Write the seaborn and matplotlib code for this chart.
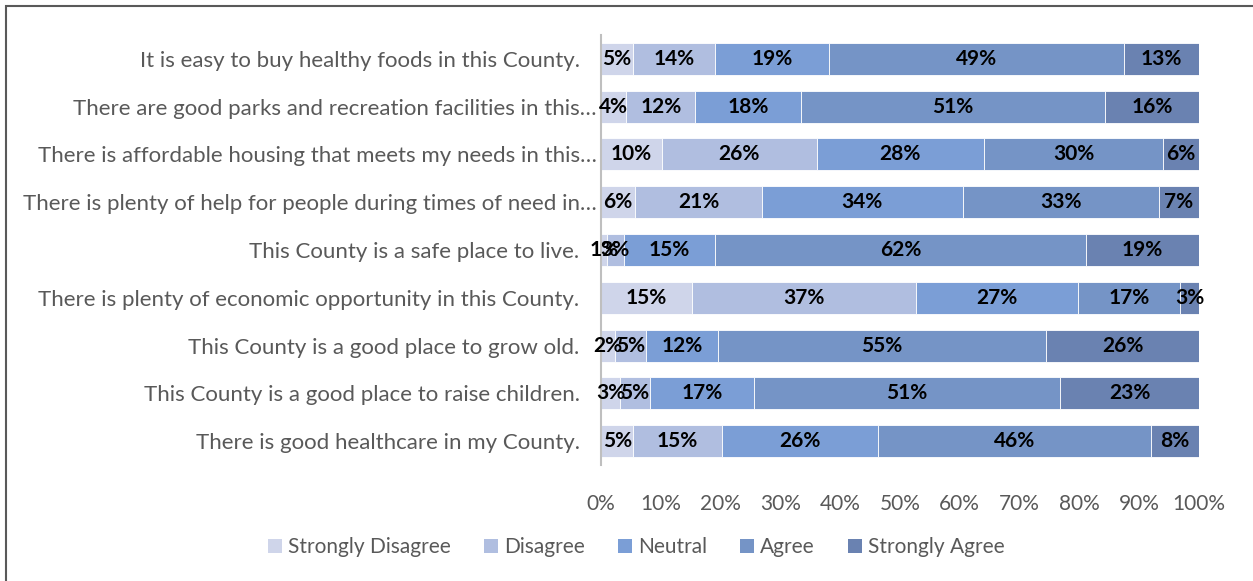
import matplotlib
matplotlib.use("Agg")
import pandas as pd
import seaborn as sns
from matplotlib import pyplot as plt
from matplotlib.patches import Rectangle, Patch


# Survey statements (top to bottom) and response shares in percent
statements = [
    "It is easy to buy healthy foods in this County.",
    "There are good parks and recreation facilities in this\u2026",
    "There is affordable housing that meets my needs in this\u2026",
    "There is plenty of help for people during times of need in\u2026",
    "This County is a safe place to live.",
    "There is plenty of economic opportunity in this County.",
    "This County is a good place to grow old.",
    "This County is a good place to raise children.",
    "There is good healthcare in my County.",
]
responses = ["Strongly Disagree", "Disagree", "Neutral", "Agree", "Strongly Agree"]

strongly_disagree = [5.3, 4.2, 10.2, 5.7, 1.0, 15.2, 2.4, 3.2, 5.4]
disagree = [13.8, 11.6, 25.9, 21.2, 2.8, 37.4, 5.2, 5.0, 14.8]
neutral = [19.0, 17.6, 27.9, 33.6, 15.3, 27.2, 12.0, 17.4, 26.1]
agree = [49.3, 50.9, 30.0, 32.8, 62.0, 17.0, 54.8, 51.2, 45.7]
strongly_agree = [12.6, 15.7, 6.0, 6.7, 18.9, 3.2, 25.6, 23.2, 8.0]

colors = ["#CFD5EA", "#B0BEE0", "#7B9ED6", "#7594C6", "#6A82B1"]
x_ticks = list(range(0, 101, 10))

data = pd.DataFrame(
    {"Statement": statements,
     "Strongly Disagree": strongly_disagree,
     "Disagree": disagree,
     "Neutral": neutral,
     "Agree": agree,
     "Strongly Agree": strongly_agree}
)

sns.set_theme(style="white")
plt.rcParams["font.family"] = ["Lato", "DejaVu Sans"]

fig = plt.figure(figsize=(12.53, 5.81), dpi=100)
ax = fig.add_axes([601 / 1253, 1 - 465 / 581, 598 / 1253, 430 / 581])

# Stacked horizontal bars, one response level at a time
left = [0.0] * len(statements)
for resp, col in zip(responses, colors):
    sns.barplot(data=data, x=resp, y="Statement", left=left, color=col,
                width=0.67, orient="h", edgecolor="white", linewidth=0.6,
                saturation=1, ax=ax)
    for i, v in enumerate(data[resp]):
        ax.text(left[i] + v / 2, i, f"{v:.0f}%", ha="center", va="center",
                fontsize=15, fontweight="bold", color="black")
    left = [a + b for a, b in zip(left, data[resp])]

ax.set_xlim(0, 100)
ax.set_xticks(x_ticks)
ax.set_xticklabels([f"{t}%" for t in x_ticks])
ax.set_xlabel("")
ax.set_ylabel("")
ax.set_yticks(range(len(statements)))
ax.set_yticklabels([s if s.endswith("\u2026") else s + "   " for s in statements])
ax.tick_params(axis="x", length=0, pad=21, labelsize=15, labelcolor="#595959")
ax.tick_params(axis="y", length=0, pad=3, labelsize=16, labelcolor="#595959")
for side in ["top", "right", "bottom"]:
    ax.spines[side].set_visible(False)
ax.spines["left"].set_color("#BFBFBF")
ax.spines["left"].set_linewidth(1.5)

handles = [Patch(facecolor=c, edgecolor="none") for c in colors]
fig.legend(handles, responses, loc="center", bbox_to_anchor=(0.508, 1 - 547 / 581),
           ncol=5, frameon=False, fontsize=15, labelcolor="#595959",
           handlelength=0.65, handleheight=0.65, handletextpad=0.3, columnspacing=1.6)

# outer chart frame
fig.patches.append(Rectangle((6 / 1253, -0.05), 1.1, 1.05 - 6 / 581, transform=fig.transFigure,
                             fill=False, edgecolor="#595959", linewidth=1.5))

fig.savefig("out.png", dpi=100)
